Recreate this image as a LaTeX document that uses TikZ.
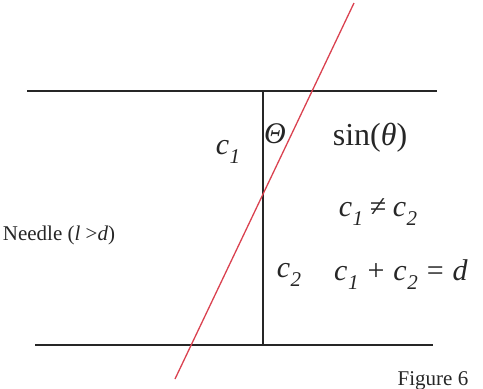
\documentclass[tikz,border=0pt]{standalone}
\usepackage{fontspec}
\setmainfont{Liberation Serif}
\definecolor{needlered}{RGB}{218,66,80}
\definecolor{ink}{RGB}{38,38,38}
\tikzset{
  rule/.style={line width=2.8pt, ink},
  perp/.style={line width=2pt, ink},
  needle/.style={line width=1.3pt, needlered},
  lbl/.style={font=\fontsize{21}{25}\selectfont, text=ink, inner sep=0pt},
  mlbl/.style={font=\fontsize{30}{34}\selectfont, text=ink, inner sep=0pt}
}
\newcommand{\ci}[1]{\textit{c}\kern0.5pt\raisebox{-0.3em}{\fontsize{21}{23}\selectfont\textit{#1}}}
\begin{document}
\begin{tikzpicture}[x=1pt,y=-1pt]
\useasboundingbox (0,0) rectangle (483,389);
% parallel lines
\coordinate (tl) at (27,91);
\coordinate (tr) at (437,91);
\coordinate (bl) at (35,345);
\coordinate (br) at (433,345);
\draw[rule] (tl) -- (tr);
\draw[rule] (bl) -- (br);
% perpendicular
\coordinate (pt) at (263,91);
\coordinate (pb) at (263,345);
\draw[perp] (pt) -- (pb);
% needle
\coordinate (na) at (354,3);
\coordinate (nb) at (175,379);
\draw[needle] (na) -- (nb);
% labels
\node[mlbl] (c1) at (228,152) {\ci{1}};
\node[mlbl] (th) at (275,134) {\textit{Θ}};
\node[mlbl, font=\fontsize{32}{36}\selectfont] (sin) at (370,138) {sin(\textit{θ})};
\node[mlbl] (neq) at (378,212) {\ci{1}\hspace{0.22em}≠\hspace{0.22em}\ci{2}};
\node[lbl] (ndl) at (59,235) {Needle (\textit{l} >\textit{d})};
\node[mlbl] (c2) at (289,275) {\ci{2}};
\node[mlbl] (sum) at (401,275) {\ci{1}\hspace{0.3em}+\hspace{0.3em}\ci{2}\hspace{0.3em}=\hspace{0.3em}\textit{d}};
\node[lbl, anchor=base] (fig) at (433,385) {Figure 6};
\end{tikzpicture}
\end{document}
